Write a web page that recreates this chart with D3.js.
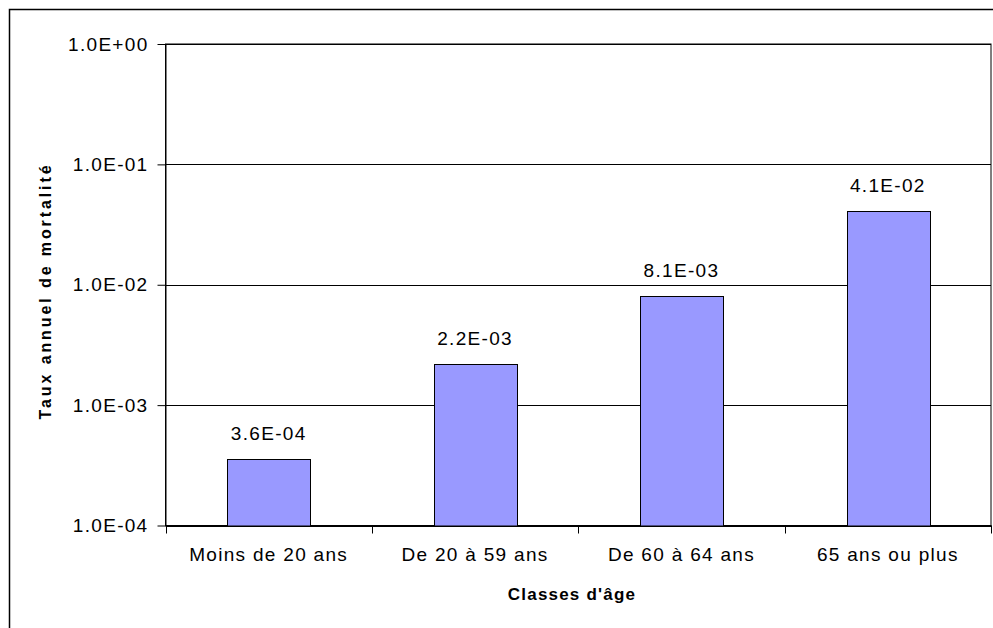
<!DOCTYPE html>
<html>
<head>
<meta charset="utf-8">
<script src="https://cdn.jsdelivr.net/npm/d3@7"></script>
<style>
  html, body { margin: 0; padding: 0; background: #fff; }
  svg { display: block; }
  text { font-family: "Liberation Sans", Arial, sans-serif; fill: #000; }
</style>
</head>
<body>
<svg id="chart" width="993" height="628"></svg>
<script>
const categories = ["Moins de 20 ans", "De 20 à 59 ans", "De 60 à 64 ans", "65 ans ou plus"];
const values = [3.6e-4, 2.2e-3, 8.1e-3, 4.1e-2];
const tickValues = [1e-4, 1e-3, 1e-2, 1e-1, 1];
const xTitle = "Classes d'âge";
const yTitle = "Taux annuel de mortalité";

function sci(v) {
  let e = Math.floor(Math.log10(v) + 1e-9);
  let m = v / Math.pow(10, e);
  let ms = m.toFixed(1);
  if (ms === "10.0") { e += 1; ms = "1.0"; }
  const sign = e < 0 ? "-" : "+";
  const ae = Math.abs(e);
  return ms + "E" + sign + (ae < 10 ? "0" : "") + ae;
}

const svg = d3.select("#chart");
const pLeft = 165.5, pRight = 991, pTop = 44, pBottom = 525.5;
const FS = "19px", LS = "1.3px";

// outer chart border
svg.append("rect").attr("x", 9.5).attr("y", 9.5).attr("width", 1100).attr("height", 1100)
  .attr("fill", "#fff").attr("stroke", "#000").attr("stroke-width", 1.5);

const y = d3.scaleLog().domain([1e-4, 1]).range([pBottom, pTop]);
const x = d3.scaleBand().domain(categories).range([pLeft, pRight]).paddingInner(0.6).paddingOuter(0.3);

// plot area
svg.append("rect").attr("x", pLeft).attr("y", pTop).attr("width", pRight - pLeft).attr("height", pBottom - pTop)
  .attr("fill", "#fff").attr("stroke", "#000").attr("stroke-width", 1);

// gridlines
svg.append("g").selectAll("line").data(tickValues).join("line")
  .attr("x1", pLeft).attr("x2", pRight)
  .attr("y1", d => Math.round(y(d)) + 0.5).attr("y2", d => Math.round(y(d)) + 0.5)
  .attr("stroke", "#000").attr("stroke-width", 1);

// bars
svg.append("g").selectAll("rect").data(values).join("rect")
  .attr("x", (d, i) => Math.round(x(categories[i])) + 0.5)
  .attr("y", d => Math.round(y(d)) + 0.5)
  .attr("width", Math.round(x.bandwidth()))
  .attr("height", d => Math.round(pBottom) - Math.round(y(d)))
  .attr("fill", "#9999FF").attr("stroke", "#000").attr("stroke-width", 1);

// value labels
svg.append("g").selectAll("text").data(values).join("text")
  .attr("x", (d, i) => x(categories[i]) + x.bandwidth() / 2)
  .attr("y", d => y(d) - 19)
  .attr("text-anchor", "middle")
  .style("font-size", FS).style("letter-spacing", LS)
  .text(d => sci(d));

// y axis
const yAxis = d3.axisLeft(y).tickValues(tickValues).tickSize(8).tickSizeOuter(0).tickPadding(9).tickFormat(sci);
const gy = svg.append("g").attr("transform", `translate(${pLeft},0)`).call(yAxis);
gy.select(".domain").attr("stroke", "#000");
gy.selectAll(".tick line").attr("stroke", "#000");
gy.selectAll(".tick text").style("font-size", FS).style("letter-spacing", LS)
  .style("font-family", "'Liberation Sans', Arial, sans-serif").attr("fill", "#000");

// x axis
const xAxis = d3.axisBottom(x).tickSize(0).tickPadding(22);
const gx = svg.append("g").attr("transform", `translate(0,${pBottom})`).call(xAxis);
gx.select(".domain").attr("stroke", "#000");
gx.selectAll(".tick text").style("font-size", FS).style("letter-spacing", LS)
  .style("font-family", "'Liberation Sans', Arial, sans-serif").attr("fill", "#000");
// category boundary ticks
const bounds = d3.range(categories.length + 1).map(i => pLeft + i * x.step());
svg.append("g").selectAll("line").data(bounds).join("line")
  .attr("x1", d => Math.round(d) + 0.5).attr("x2", d => Math.round(d) + 0.5)
  .attr("y1", pBottom).attr("y2", pBottom + 8)
  .attr("stroke", "#000");

// axis titles
svg.append("text").attr("x", 572).attr("y", 600).attr("text-anchor", "middle")
  .style("font-size", "17px").style("font-weight", "bold").style("letter-spacing", "1.2px")
  .text(xTitle);
svg.append("text").attr("transform", "translate(51,291) rotate(-90)").attr("text-anchor", "middle")
  .style("font-size", "16px").style("font-weight", "bold").style("letter-spacing", "2.9px")
  .text(yTitle);
</script>
</body>
</html>
